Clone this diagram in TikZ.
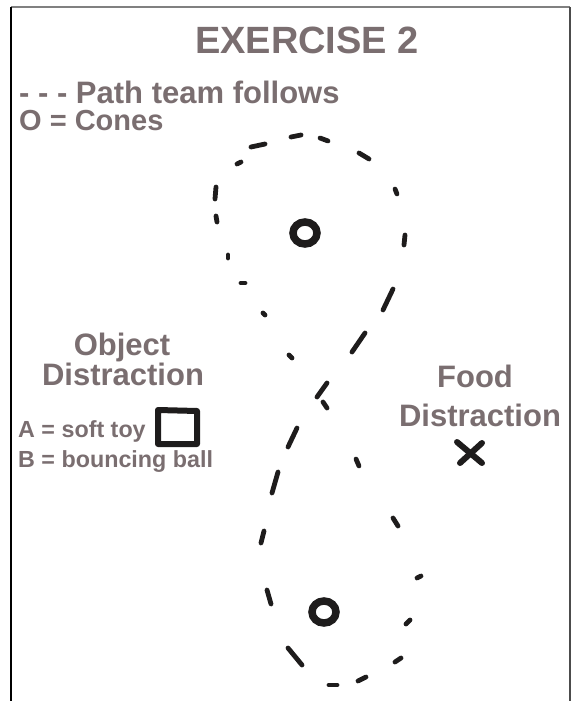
\documentclass[tikz,border=0pt]{standalone}
\usepackage{fontspec}
\setmainfont{Liberation Sans}
\definecolor{txt}{RGB}{122,110,112}
\definecolor{ink}{RGB}{30,28,28}
\begin{document}
\begin{tikzpicture}[x=1pt,y=-1pt,
  lbl/.style={inner sep=0pt,text=txt,font=\bfseries},
  stroke/.style={draw=ink,line width=4.8pt,line cap=round},
  cone/.style={draw=ink,line width=7.5pt},
  frame/.style={line width=2pt}]
\useasboundingbox (0,0) rectangle (573,701);
% frame
\draw[frame,gray] (11,7) -- (570,7);
\draw[frame,black] (11,7) -- (11,701);
\draw[frame,black!70] (570,7) -- (570,701);
% texts
\node[lbl,anchor=base,font=\bfseries\fontsize{38}{42}\selectfont] (title) at (307,54) {EXERCISE 2};
\node[lbl,anchor=base west,font=\bfseries\fontsize{31}{34}\selectfont] (leg1) at (19,103) {- - - Path team follows};
\node[lbl,anchor=base west,font=\bfseries\fontsize{29}{34}\selectfont] (leg2) at (19,130) {O = Cones};
\node[lbl,anchor=base,font=\bfseries\fontsize{31}{34}\selectfont] (obj1) at (122,355) {Object};
\node[lbl,anchor=base,font=\bfseries\fontsize{31}{34}\selectfont] (obj2) at (123,385) {Distraction};
\node[lbl,anchor=base west,font=\bfseries\fontsize{23.3}{26}\selectfont] (ta) at (18,437) {A = soft toy};
\node[lbl,anchor=base west,font=\bfseries\fontsize{23.3}{26}\selectfont] (tb) at (18,467) {B = bouncing ball};
\node[lbl,anchor=base,font=\bfseries\fontsize{31}{34}\selectfont] (food1) at (475,387) {Food};
\node[lbl,anchor=base,font=\bfseries\fontsize{31}{34}\selectfont] (food2) at (480,426) {Distraction};
% object square
\draw[draw=ink,line width=6pt,line join=round] (158,410) -- (197,411) -- (197,444) -- (158,444) -- cycle;
% food X
\draw[stroke,line width=6pt] (457,442) -- (482,463);
\draw[stroke,line width=6pt] (460,463) -- (482,443);
% cones
\draw[cone] (305,233) ellipse [x radius=12,y radius=11];
\draw[cone] (324,612) ellipse [x radius=12,y radius=11];
% path dashes - top loop
\draw[stroke] (251,147) -- (265,144);
\draw[stroke] (291,137) -- (301,135);
\draw[stroke] (320,138) -- (328,141);
\draw[stroke] (359,153) -- (369,159);
\draw[stroke] (237,164) -- (241,162);
\draw[stroke] (216,187) -- (215,199);
\draw[stroke] (216,216) -- (217,222);
\draw[stroke] (395,189) -- (397,194);
\draw[stroke] (405,235) -- (404,245);
\draw[stroke] (228,255) -- (228,258);
\draw[stroke] (241,283) -- (245,283);
\draw[stroke] (383,310) -- (393,289);
\draw[stroke] (263,313) -- (265,315);
% middle
\draw[stroke] (352,352) -- (365,333);
\draw[stroke] (289,355) -- (292,358);
\draw[stroke] (317,397) -- (327,383);
\draw[stroke] (323,402) -- (327,408);
\draw[stroke] (288,447) -- (297,428);
\draw[stroke] (356,459) -- (359,466);
\draw[stroke] (272,493) -- (278,472);
% bottom loop
\draw[stroke] (261,543) -- (264,531);
\draw[stroke] (393,518) -- (398,526);
\draw[stroke] (267,590) -- (271,604);
\draw[stroke] (417,578) -- (421,576);
\draw[stroke] (406,624) -- (410,620);
\draw[stroke] (288,648) -- (302,665);
\draw[stroke] (395,662) -- (401,658);
\draw[stroke] (329,685) -- (337,685);
\draw[stroke] (358,681) -- (366,677);
\end{tikzpicture}
\end{document}
